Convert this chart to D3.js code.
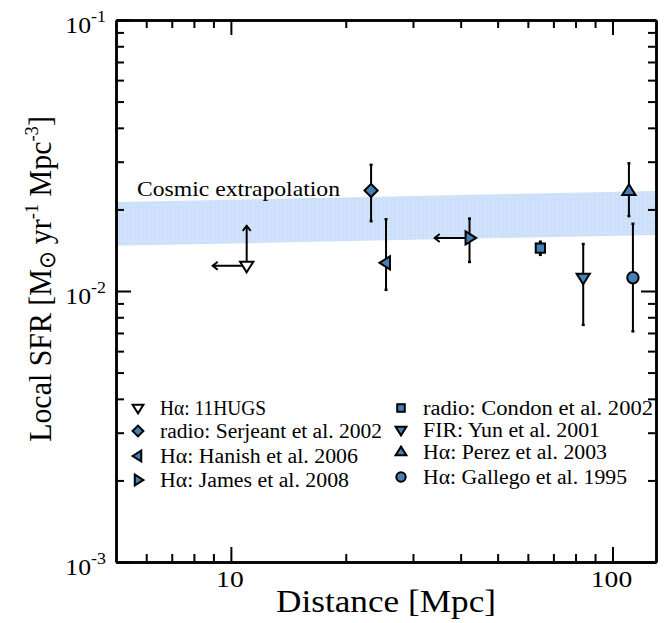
<!DOCTYPE html>
<html>
<head>
<meta charset="utf-8">
<script src="https://cdn.jsdelivr.net/npm/d3@7"></script>
<style>
  body { margin: 0; background: #fff; }
</style>
</head>
<body>
<div id="chart"></div>
<script>
// data
const labels = ['Hα: 11HUGS', 'radio: Serjeant et al. 2002', 'Hα: Hanish et al. 2006', 'Hα: James et al. 2008',
                'radio: Condon et al. 2002', 'FIR: Yun et al. 2001', 'Hα: Perez et al. 2003', 'Hα: Gallego et al. 1995'];
const shapes = ['tridown-open', 'diamond', 'trileft', 'triright', 'square', 'tridown', 'triup', 'circle'];
const distance = [11.0, 23.3, 25.5, 42.2, 64.7, 83.8, 110.4, 113.1];
const sfr      = [0.0124, 0.0235, 0.0127, 0.0157, 0.0144, 0.0112, 0.0234, 0.0112];
const sfrLo    = [null, 0.0181, 0.0101, 0.0128, 0.0136, 0.0075, 0.0189, 0.0071];
const sfrHi    = [null, 0.0292, 0.0184, 0.0185, 0.0152, 0.0149, 0.0296, 0.0177];
// limit arrows: [index, direction, end value]
const arrows = [[0, 'up', 0.0174], [0, 'left', 8.96], [3, 'left', 34.2]];

// cosmic extrapolation band (lower/upper edges at the axis ends)
const bandDist = [5, 130];
const bandLo = [0.0147, 0.0161];
const bandHi = [0.0213, 0.0234];

const W = 667, H = 623;
const m = {left: 116, top: 20, right: 11, bottom: 61};
const FONT = "'Liberation Serif', 'Times New Roman', serif";
const svg = d3.select('#chart').append('svg').attr('width', W).attr('height', H)
    .style('font-family', FONT);

const x = d3.scaleLog().domain([5, 130]).range([m.left, W - m.right]);
const y = d3.scaleLog().domain([1e-3, 1e-1]).range([H - m.bottom, m.top]);

const blue = '#4481b9';

// dotted fill for the band
const defs = svg.append('defs');
const pat = defs.append('pattern').attr('id', 'dots').attr('width', 4).attr('height', 4)
    .attr('patternUnits', 'userSpaceOnUse');
pat.append('rect').attr('width', 4).attr('height', 4).attr('fill', '#cce0fb');
pat.append('circle').attr('cx', 1).attr('cy', 1).attr('r', 0.6).attr('fill', '#eef5ff');

const bandPts = bandDist.map((d, i) => ({d: d, lo: bandLo[i], hi: bandHi[i]}));
svg.append('path')
    .datum(bandPts)
    .attr('d', d3.area().x(p => x(p.d)).y0(p => y(p.lo)).y1(p => y(p.hi)))
    .attr('fill', 'url(#dots)');

svg.append('text').attr('x', 137).attr('y', 196).attr('font-size', 21)
    .attr('textLength', 203).attr('lengthAdjust', 'spacingAndGlyphs')
    .text('Cosmic extrapolation');

// ticks
const xMinor = [6, 7, 8, 9, 20, 30, 40, 50, 60, 70, 80, 90];
const xMajor = [10, 100];
const yMinor = [];
[1e-3, 1e-2].forEach(dec => { for (let k = 2; k <= 9; k++) yMinor.push(dec * k); });
const yMajor = [1e-3, 1e-2, 1e-1];

function addAxis(axisFn, scale, vals, size, tr) {
  svg.append('g').attr('transform', tr)
    .call(axisFn(scale).tickValues(vals).tickSizeInner(size).tickSizeOuter(0).tickFormat(''))
    .call(g => g.select('.domain').attr('stroke', '#000').attr('stroke-width', 2.5))
    .call(g => g.selectAll('.tick line').attr('stroke', '#000').attr('stroke-width', 2));
}
const trBot = `translate(0,${H - m.bottom})`, trTop = `translate(0,${m.top})`;
const trLeft = `translate(${m.left},0)`, trRight = `translate(${W - m.right},0)`;
addAxis(d3.axisBottom, x, xMinor, -8, trBot);
addAxis(d3.axisBottom, x, xMajor, -15, trBot);
addAxis(d3.axisTop, x, xMinor, -8, trTop);
addAxis(d3.axisTop, x, xMajor, -15, trTop);
addAxis(d3.axisLeft, y, yMinor, -8, trLeft);
addAxis(d3.axisLeft, y, yMajor, -15, trLeft);
addAxis(d3.axisRight, y, yMinor, -8, trRight);
addAxis(d3.axisRight, y, yMajor, -15, trRight);

// tick labels
xMajor.forEach(v => {
  svg.append('text').attr('transform', `translate(${x(v) - 1},${H - m.bottom + 25}) scale(1.2,1)`)
      .attr('text-anchor', 'middle').attr('font-size', 23).text(v);
});
yMajor.forEach(v => {
  const t = svg.append('text').attr('transform', `translate(${m.left - 10},${y(v) + 13}) scale(1.12,1)`)
      .attr('text-anchor', 'end').attr('font-size', 23);
  t.append('tspan').text('10');
  t.append('tspan').attr('dy', -11).attr('font-size', 16).text(Math.round(Math.log10(v)));
});

// axis titles
svg.append('text').attr('x', 386).attr('y', 612)
    .attr('text-anchor', 'middle').attr('font-size', 31)
    .attr('textLength', 220).attr('lengthAdjust', 'spacingAndGlyphs').text('Distance [Mpc]');
const yt = svg.append('text').attr('text-anchor', 'middle').attr('font-size', 29);
yt.append('tspan').text('Local SFR [M');
yt.append('tspan').attr('dy', 4).attr('font-size', 21).text('⊙');
yt.append('tspan').attr('dy', -4).text(' yr');
yt.append('tspan').attr('dy', -12).attr('font-size', 18).text('-1');
yt.append('tspan').attr('dy', 12).text(' Mpc');
yt.append('tspan').attr('dy', -12).attr('font-size', 18).text('-3');
yt.append('tspan').attr('dy', 12).text(']');
const ytLen = yt.node().getComputedTextLength() || 320;
yt.attr('transform', `translate(51,279) scale(1.1,${327 / ytLen}) rotate(-90)`);

// marker shapes
function drawMarker(g, shape, cx, cy, s) {
  const fill = shape.endsWith('open') ? '#fff' : blue;
  const base = shape.replace('-open', '');
  let el;
  if (base === 'circle') {
    el = g.append('circle').attr('cx', cx).attr('cy', cy).attr('r', s * 0.52);
  } else if (base === 'square') {
    el = g.append('rect').attr('x', cx - s * 0.42).attr('y', cy - s * 0.42)
        .attr('width', s * 0.84).attr('height', s * 0.84);
  } else {
    const r = s * 0.6;
    let pts;
    if (base === 'diamond') pts = [[0, -r], [r, 0], [0, r], [-r, 0]];
    if (base === 'triup') pts = [[0, -r], [r, r * 0.6], [-r, r * 0.6]];
    if (base === 'tridown') pts = [[0, r], [r, -r * 0.6], [-r, -r * 0.6]];
    if (base === 'trileft') pts = [[-r, 0], [r * 0.6, -r], [r * 0.6, r]];
    if (base === 'triright') pts = [[r, 0], [-r * 0.6, -r], [-r * 0.6, r]];
    el = g.append('polygon').attr('points', pts.map(p => (cx + p[0]) + ',' + (cy + p[1])).join(' '));
  }
  el.attr('fill', fill).attr('stroke', '#000').attr('stroke-width', 2);
}

const pts = svg.append('g');
// error bars
distance.forEach((d, i) => {
  if (sfrLo[i] == null) return;
  const cx = x(d);
  pts.append('line').attr('x1', cx).attr('x2', cx).attr('y1', y(sfrLo[i])).attr('y2', y(sfrHi[i]))
      .attr('stroke', '#000').attr('stroke-width', 2);
  [sfrLo[i], sfrHi[i]].forEach(v => pts.append('line').attr('x1', cx - 1.5).attr('x2', cx + 1.5)
      .attr('y1', y(v)).attr('y2', y(v)).attr('stroke', '#000').attr('stroke-width', 2.5));
});
// limit arrows
arrows.forEach(([i, dir, v]) => {
  const x0 = x(distance[i]), y0 = y(sfr[i]);
  let x1 = x0, y1 = y0, h;
  if (dir === 'up') { y1 = y(v); h = [[-4, 5], [0, 0], [4, 5]]; }
  else { x1 = x(v); h = [[5, -4], [0, 0], [5, 4]]; }
  pts.append('line').attr('x1', x0).attr('y1', y0).attr('x2', x1).attr('y2', y1)
      .attr('stroke', '#000').attr('stroke-width', 2);
  pts.append('polyline').attr('points', h.map(p => (x1 + p[0]) + ',' + (y1 + p[1])).join(' '))
      .attr('fill', 'none').attr('stroke', '#000').attr('stroke-width', 2);
});
distance.forEach((d, i) => drawMarker(pts, shapes[i], x(d), y(sfr[i]), 11));

// legend
const legX = [138, 401], legY = [[408, 431, 456, 480], [408, 430, 452, 477]];
const legW = [106, 222, 198, 189, 230, 177, 184, 204];
labels.forEach((lab, i) => {
  const col = Math.floor(i / 4), row = i % 4;
  const lx = legX[col], ly = legY[col][row];
  drawMarker(svg, shapes[i], lx, ly, 9);
  svg.append('text').attr('x', lx + 22).attr('y', ly + 7).attr('font-size', 20)
      .attr('textLength', legW[i]).attr('lengthAdjust', 'spacingAndGlyphs').text(lab);
});
</script>
</body>
</html>
